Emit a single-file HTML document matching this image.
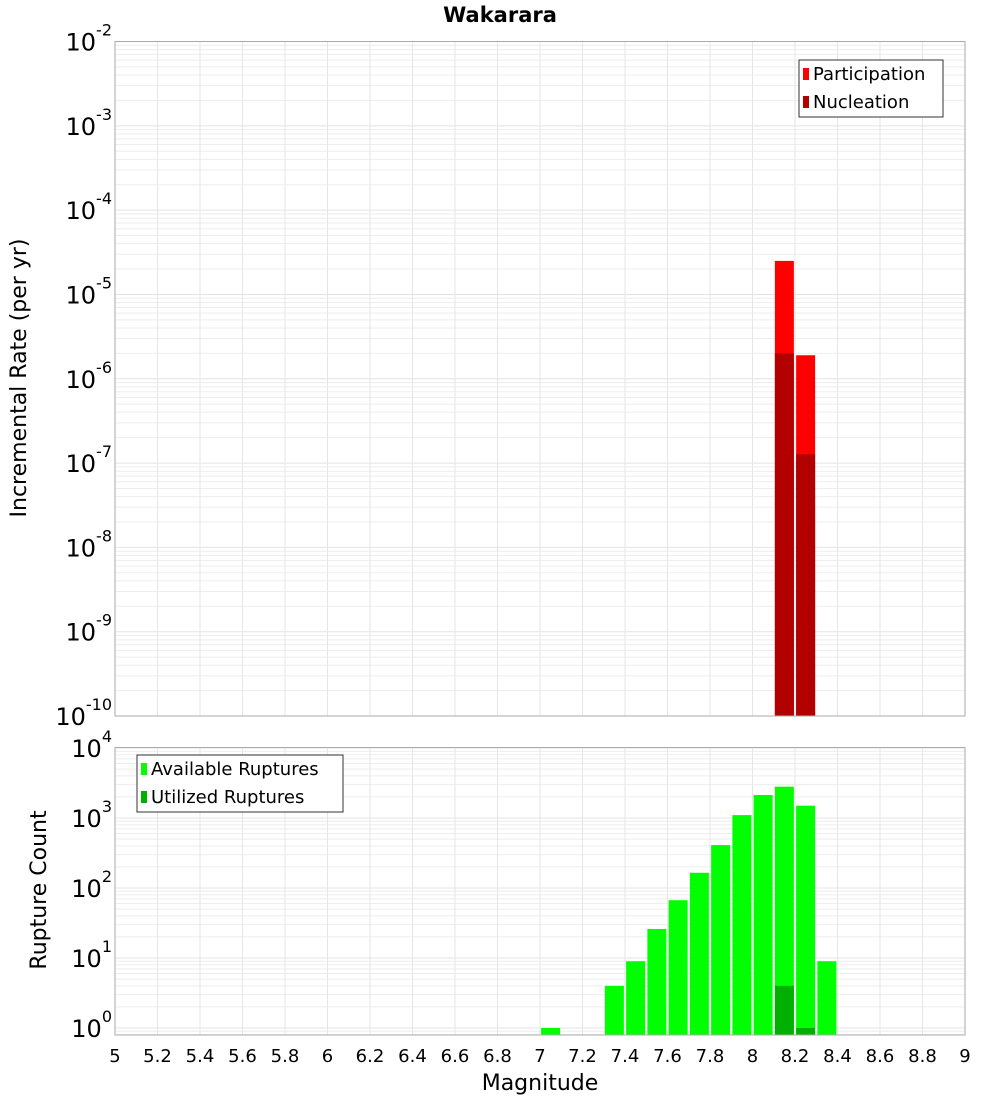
<!DOCTYPE html>
<html><head><meta charset="utf-8"><style>
body{margin:0;background:#fff;}
svg{display:block;font-family:"DejaVu Sans","Liberation Sans",sans-serif;}
</style></head><body>
<svg id="c" width="1000" height="1100" viewBox="0 0 1000 1100">
<text x="500" y="22" text-anchor="middle" font-size="21" font-weight="bold">Wakarara</text>
<text transform="translate(26,378) rotate(-90)" text-anchor="middle" font-size="22">Incremental Rate (per yr)</text>
<text transform="translate(46,890) rotate(-90)" text-anchor="middle" font-size="22">Rupture Count</text>
<text x="540" y="1090" text-anchor="middle" font-size="22">Magnitude</text>
<g id="g"></g>
</svg>
<script>
const magCenters=[7.05,7.35,7.45,7.55,7.65,7.75,7.85,7.95,8.05,8.15,8.25,8.35];
const availableCounts=[1,4,9,26,67,165,410,1100,2130,2800,1500,9];
const utilizedMags=[8.15,8.25];
const utilizedCounts=[4,1];
const rateMags=[8.15,8.25];
const participationRates=[2.5e-5,1.9e-6];
const nucleationRates=[2.0e-6,1.27e-7];
const xTicks=[5,5.2,5.4,5.6,5.8,6,6.2,6.4,6.6,6.8,7,7.2,7.4,7.6,7.8,8,8.2,8.4,8.6,8.8,9];
const topExps=[-2,-3,-4,-5,-6,-7,-8,-9,-10];
const botExps=[4,3,2,1,0];

const NS="http://www.w3.org/2000/svg";
const g=document.getElementById('g');
function el(t,a,p){const e=document.createElementNS(NS,t);for(const k in a)e.setAttribute(k,a[k]);(p||g).appendChild(e);return e;}
const X0=115,X1=965;
const xs=m=>X0+(m-5)/4*(X1-X0);
const TT=41.5,TB=716;const tDec=(TB-TT)/8;
const yTop=v=>TT+(-2-Math.log10(v))*tDec;
const BT=747.5,BB=1035;const bDec=70;
const yBot=v=>1028-Math.log10(v)*bDec;

function panel(top,bot,yfun,lo,hi,name){
  const grid=el('g',{},g);
  
  
  for(let e=lo;e<=hi;e++)for(let k=1;k<10;k++){
    const y=yfun(k*Math.pow(10,e));
    if(y<top-0.1||y>bot+0.1)continue;
    el('line',{x1:X0,x2:X1,y1:y,y2:y,stroke:k==1?'#e4e4e4':'#ededed','stroke-width':1},grid);
  }
  xTicks.forEach(t=>{const x=xs(t);el('line',{x1:x,x2:x,y1:top,y2:bot,stroke:'#e6e6e6'},grid);});
}
panel(TT,TB,yTop,-10,-2,'top');
panel(BT,BB,yBot,-1,4,'bottom');

function bar(m,top,bottom,color,name){
  const b=el('rect',{x:xs(m)-9.5,y:top,width:19,height:bottom-top,fill:color});
  
  
}
rateMags.forEach((m,i)=>bar(m,yTop(participationRates[i]),TB,'#ff0000','participation-bar-'+m));
rateMags.forEach((m,i)=>bar(m,yTop(nucleationRates[i]),TB,'#b20000','nucleation-bar-'+m));
magCenters.forEach((m,i)=>bar(m,yBot(availableCounts[i]),BB,'#00ff00','available-bar-'+m));
utilizedMags.forEach((m,i)=>bar(m,yBot(utilizedCounts[i]),BB,'#00b000','utilized-bar-'+m));

el('rect',{x:X0,y:TT,width:X1-X0,height:TB-TT,fill:'none',stroke:'#aaa'});
el('rect',{x:X0,y:BT,width:X1-X0,height:BB-BT,fill:'none',stroke:'#aaa'});

function expLabel(y,e,name){
  const t=el('text',{x:112,y:y+9,'text-anchor':'end','font-size':24});
  
  
  const a=document.createElementNS(NS,'tspan');a.textContent='10';t.appendChild(a);
  const b=document.createElementNS(NS,'tspan');b.setAttribute('dy','-15');b.setAttribute('font-size','16');b.textContent=String(e);t.appendChild(b);
}
topExps.forEach(e=>expLabel(yTop(Math.pow(10,e)),e,'top-y-tick-label'));
botExps.forEach(e=>expLabel(yBot(Math.pow(10,e)),e,'bottom-y-tick-label'));
xTicks.forEach(t=>{
  const lb=el('text',{x:xs(t),y:1062,'text-anchor':'middle','font-size':18});
  
  
  lb.textContent=String(t);
});

function legend(x,y,w,items,name){
  const lg=el('g',{});
  
  
  el('rect',{x:x,y:y,width:w,height:57,fill:'#fff',stroke:'#333'},lg);
  items.forEach((it,i)=>{
    el('rect',{x:x+4,y:y+8+i*28,width:6,height:12,fill:it[1]},lg);
    const t=el('text',{x:x+14,y:y+20+i*28,'font-size':18},lg);
    t.textContent=it[0];
  });
}
legend(799,60,144,[['Participation','#ff0000'],['Nucleation','#b20000']],'top-legend');
legend(137,755,206,[['Available Ruptures','#00ff00'],['Utilized Ruptures','#00b000']],'bottom-legend');
</script>
</body></html>
